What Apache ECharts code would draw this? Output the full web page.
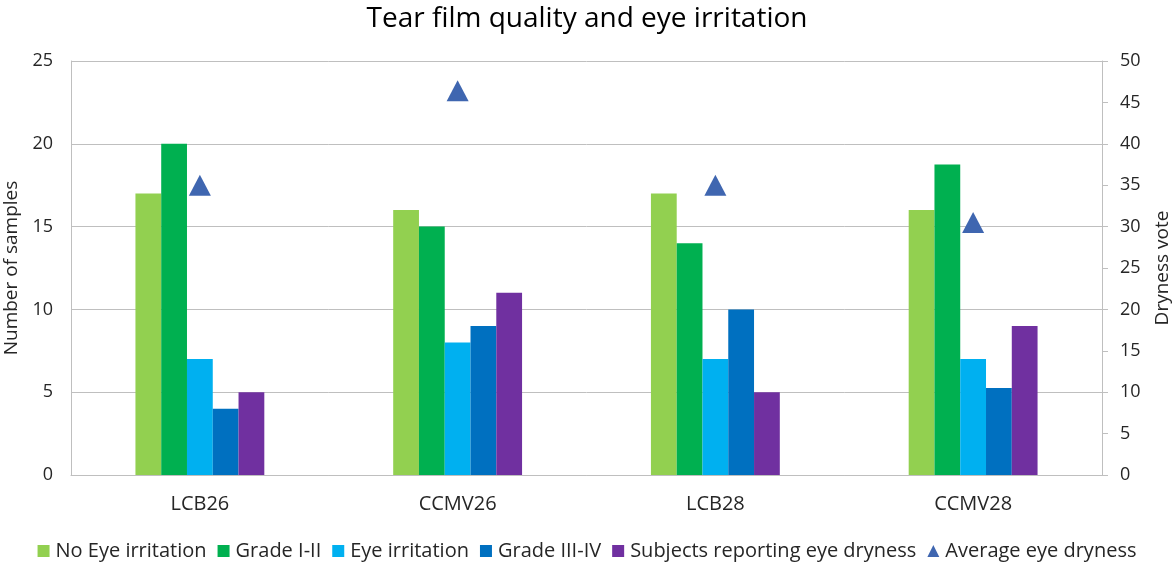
<!DOCTYPE html>
<html>
<head>
<meta charset="utf-8">
<script src="https://cdn.jsdelivr.net/npm/echarts@6/dist/echarts.min.js"></script>
<style>
  html, body { margin: 0; padding: 0; background: #fff; }
  #chart { width: 1174px; height: 565px; }
</style>
</head>
<body>
<div id="chart"></div>
<script>
// Data
const categories = ["LCB26", "CCMV26", "LCB28", "CCMV28"];
const noEyeIrritation = [17, 16, 17, 16];
const gradeOneTwo = [20, 15, 14, 18.75];
const eyeIrritation = [7, 8, 7, 7];
const gradeThreeFour = [4, 9, 10, 5.25];
const subjectsDryness = [5, 11, 5, 9];
const avgDryness = [35, 46.4, 35, 30.5];

const FONT = "'Open Sans', 'Noto Sans', sans-serif";
const INK = "#262626";
const AXIS = "#BFBFBF";

const chart = echarts.init(document.getElementById("chart"), null, { renderer: "canvas" });

const bar = (name, data, color) => ({
  name,
  type: "bar",
  data,
  barGap: "0%",
  barCategoryGap: "50%",
  itemStyle: { color },
});

chart.setOption({
  animation: false,
  textStyle: { fontFamily: FONT, color: INK },
  title: {
    text: "Tear film quality and eye irritation",
    left: "center",
    top: 0,
    textStyle: { fontFamily: FONT, fontSize: 28, fontWeight: "normal", color: "#000" },
  },
  // keep the plot box fixed; v6 would otherwise shrink it to fit the axis names
  grid: { left: 71, right: 72, top: 61, bottom: 90, outerBoundsMode: "none" },
  legend: {
    bottom: -1,
    left: "center",
    itemWidth: 12,
    itemHeight: 12,
    itemGap: 11,
    textStyle: { fontFamily: FONT, fontSize: 20, color: INK, padding: [0, 0, 0, 1] },
    data: [
      { name: "No Eye irritation", icon: "rect" },
      { name: "Grade I-II", icon: "rect" },
      { name: "Eye irritation", icon: "rect" },
      { name: "Grade III-IV", icon: "rect" },
      { name: "Subjects reporting eye dryness", icon: "rect" },
      { name: "Average eye dryness", icon: "triangle" },
    ],
  },
  xAxis: {
    type: "category",
    data: categories,
    axisLine: { lineStyle: { color: AXIS } },
    axisTick: { show: false },
    axisLabel: { color: INK, fontSize: 20, margin: 19 },
  },
  yAxis: [
    {
      type: "value",
      min: 0,
      max: 25,
      interval: 5,
      name: "Number of samples",
      nameLocation: "middle",
      nameRotate: 90,
      nameGap: 48,
      nameTextStyle: { fontFamily: FONT, fontSize: 19, color: INK },
      axisLine: { show: true, lineStyle: { color: AXIS } },
      axisTick: { show: false },
      axisLabel: { color: INK, fontSize: 18, margin: 18 },
      splitLine: { lineStyle: { color: AXIS } },
    },
    {
      type: "value",
      min: 0,
      max: 50,
      interval: 5,
      name: "Dryness vote",
      nameLocation: "middle",
      nameRotate: 90,
      nameGap: 51,
      nameTextStyle: { fontFamily: FONT, fontSize: 19, color: INK },
      axisLine: { show: true, lineStyle: { color: AXIS } },
      axisTick: { show: true, length: 6, lineStyle: { color: AXIS } },
      axisLabel: { color: INK, fontSize: 18, margin: 18 },
      splitLine: { show: false },
    },
  ],
  series: [
    bar("No Eye irritation", noEyeIrritation, "#92D050"),
    bar("Grade I-II", gradeOneTwo, "#00B050"),
    bar("Eye irritation", eyeIrritation, "#00B0F0"),
    bar("Grade III-IV", gradeThreeFour, "#0070C0"),
    bar("Subjects reporting eye dryness", subjectsDryness, "#7030A0"),
    {
      name: "Average eye dryness",
      type: "scatter",
      yAxisIndex: 1,
      symbol: "triangle",
      symbolSize: [22, 21],
      itemStyle: { color: "#3F66B0", opacity: 1 },
      data: avgDryness,
      z: 5,
    },
  ],
});
</script>
</body>
</html>
